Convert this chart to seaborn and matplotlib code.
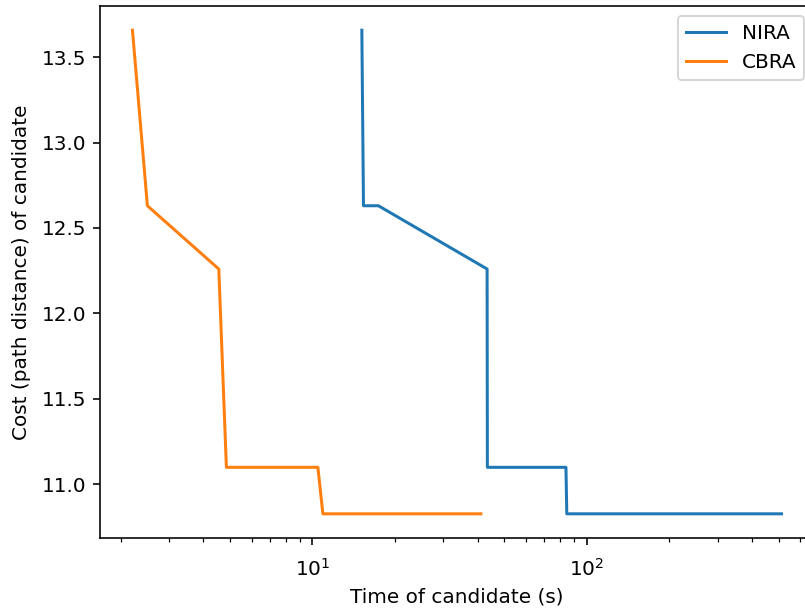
import pandas as pd
import seaborn as sns
import matplotlib.pyplot as plt

# Values
nira_time = [15.14, 15.35, 17.4, 43.3, 43.4, 83.9, 84.5, 512.0]
nira_cost = [13.657, 12.63, 12.63, 12.26, 11.10, 11.10, 10.828, 10.828]

cbra_time = [2.21, 2.505, 4.56, 4.86, 10.47, 10.92, 41.1]
cbra_cost = [13.657, 12.63, 12.26, 11.10, 11.10, 10.828, 10.828]

df = pd.concat([
    pd.DataFrame({'time': nira_time, 'cost': nira_cost, 'algo': 'NIRA'}),
    pd.DataFrame({'time': cbra_time, 'cost': cbra_cost, 'algo': 'CBRA'}),
], ignore_index=True)

# reference looks like a default matplotlib figure saved at 144 dpi and cropped
dpi = 144
fig = plt.figure(figsize=(805 / dpi, 609 / dpi), dpi=dpi)
ax = fig.add_axes([100 / 805, 71 / 609, 714 / 805, 532 / 609])

sns.lineplot(data=df, x='time', y='cost', hue='algo', sort=False, estimator=None,
             palette=['#1f77b4', '#ff7f0e'], linewidth=1.5, ax=ax)

ax.set_xscale('log')
ax.tick_params(axis='x', which='major', pad=6.5)
ax.set_xlabel('Time of candidate (s)')
ax.set_ylabel('Cost (path distance) of candidate', labelpad=5)
ax.legend(loc='upper right', title=None)

fig.savefig('out.png', dpi=dpi)
